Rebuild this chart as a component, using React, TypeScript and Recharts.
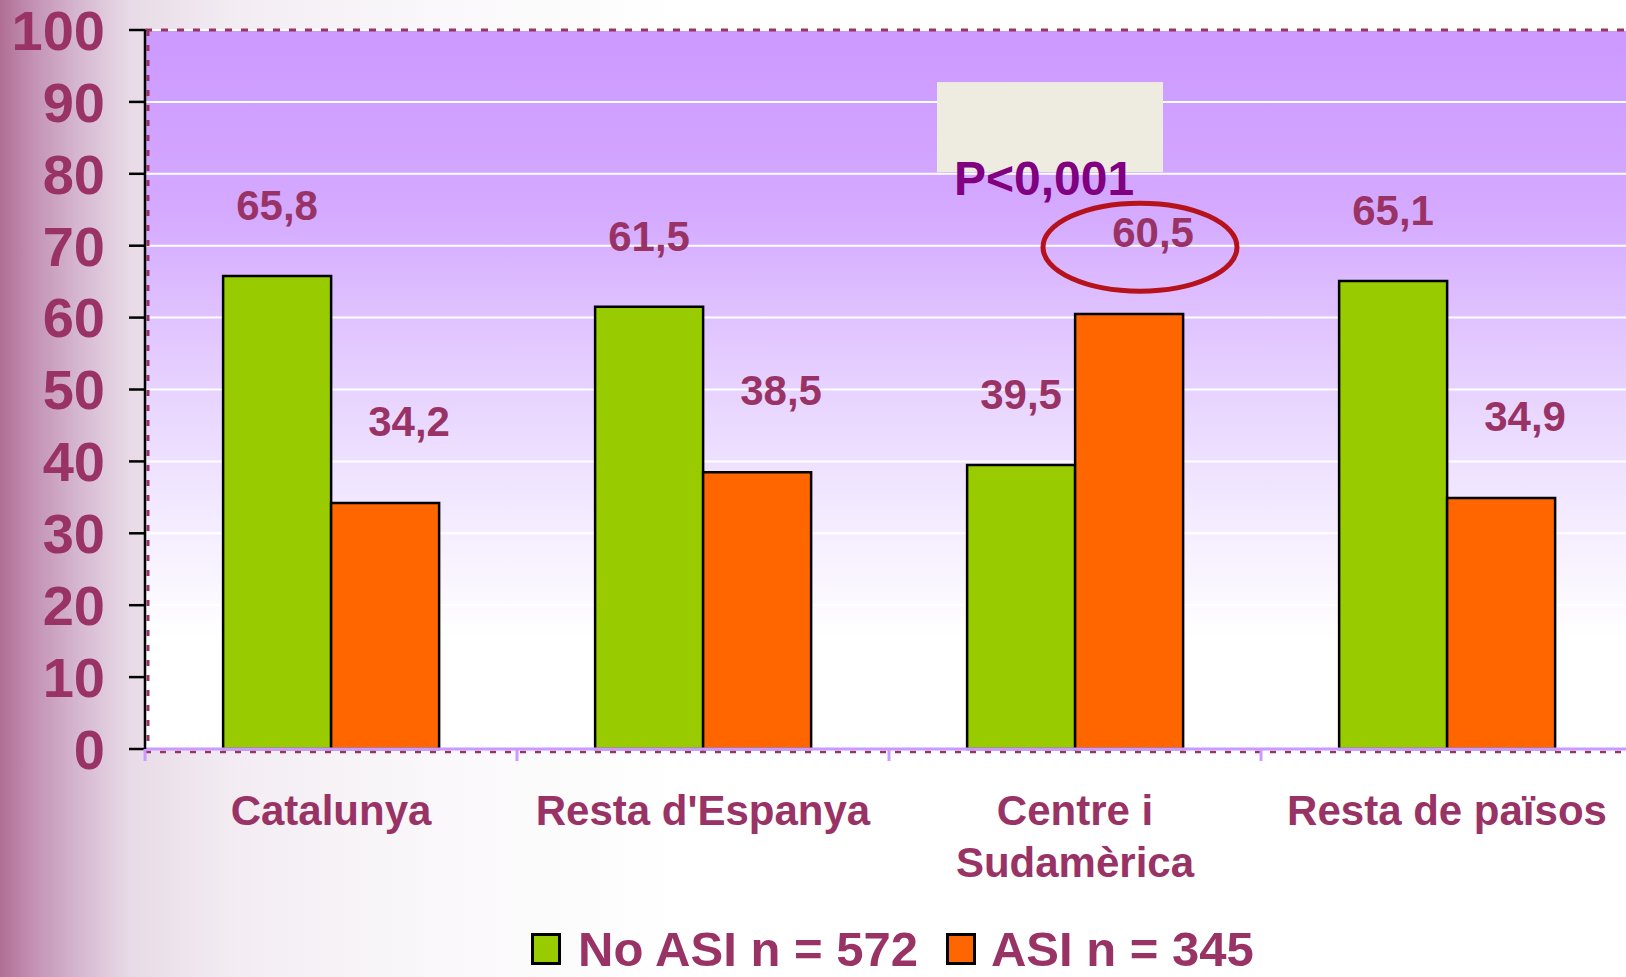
import React from "react";
import {
  BarChart, Bar, XAxis, YAxis, CartesianGrid, Legend, LabelList,
  ReferenceLine, ReferenceDot,
} from "recharts";

const categories = ["Catalunya", "Resta d'Espanya", "Centre i\nSudamèrica", "Resta de països"];
const noAsi = [65.8, 61.5, 39.5, 65.1];
const asi = [34.2, 38.5, 60.5, 34.9];
const yTicks = [0, 10, 20, 30, 40, 50, 60, 70, 80, 90, 100];
const seriesNames = ["No ASI n = 572", "ASI n = 345"];

const data = categories.map((name, i) => ({ name, noAsi: noAsi[i], asi: asi[i] }));

const MAROON = "#993366";
const GREEN = "#99CC00";
const ORANGE = "#FF6600";
const FONT = "'Liberation Sans', Arial, sans-serif";

const fmt = (v: number) => String(v).replace(".", ",");

function makeLabel(dx: number, dy: number) {
  return (props: any) => {
    const { x, y, width, value } = props;
    return (
      <text
        x={Number(x) + Number(width) / 2 + dx}
        y={Number(y) + dy}
        textAnchor="middle"
        dominantBaseline="central"
        fill={MAROON}
        fontFamily={FONT}
        fontWeight="bold"
        fontSize={42}
      >
        {fmt(value)}
      </text>
    );
  };
}

function CatTick(props: any) {
  const { x, y, payload } = props;
  const half = payload && typeof payload.offset === "number" && payload.offset > 0 ? payload.offset : 186;
  const lines = String(payload.value).split("\n");
  return (
    <g>
      <line x1={x - half} x2={x - half} y1={y} y2={y + 12} stroke="#CC99FF" strokeWidth={3} />
      {lines.map((l, i) => (
        <text
          key={i}
          x={x}
          y={y + 61 + i * 52}
          textAnchor="middle"
          dominantBaseline="central"
          fill={MAROON}
          fontFamily={FONT}
          fontWeight="bold"
          fontSize={42}
        >
          {l}
        </text>
      ))}
    </g>
  );
}

function LegendBox() {
  const sq = (c: string) => (
    <span style={{ display: "inline-block", width: 24, height: 26, background: c, border: "3px solid #000" }} />
  );
  const txt = { color: MAROON, fontFamily: FONT, fontWeight: "bold" as const, fontSize: 49, lineHeight: "42px" };
  return (
    <div style={{ display: "flex", alignItems: "center", height: 66, paddingLeft: 531, paddingTop: 18, boxSizing: "border-box" }}>
      {sq(GREEN)}
      <span style={{ ...txt, marginLeft: 17 }}>{seriesNames[0]}</span>
      <span style={{ marginLeft: 28, display: "inline-flex" }}>{sq(ORANGE)}</span>
      <span style={{ ...txt, marginLeft: 15 }}>{seriesNames[1]}</span>
    </div>
  );
}

export default function App() {
  return (
    <div
      style={{
        position: "absolute", left: 0, top: 0, width: 1626, height: 977, overflow: "hidden",
        background:
          "linear-gradient(to right, #b06f95 0px, #c493b5 35px, #d6b8d1 80px, #e8dbe7 130px, #f3edf3 240px, #faf8fa 440px, #ffffff 680px)",
      }}
    >
      <BarChart
        width={1633}
        height={973}
        data={data}
        margin={{ top: 30, right: 0, left: 0, bottom: 0 }}
        barCategoryGap="21%"
        barGap={0}
      >
        <defs>
          <linearGradient id="plotGrad" x1="0" y1="0" x2="0" y2="1">
            <stop offset="0%" stopColor="#CC99FF" />
            <stop offset="25%" stopColor="#D4A9FF" />
            <stop offset="50%" stopColor="#E7D3FF" />
            <stop offset="70%" stopColor="#F5EEFF" />
            <stop offset="85%" stopColor="#FFFFFF" />
            <stop offset="100%" stopColor="#FFFFFF" />
          </linearGradient>
        </defs>
        <CartesianGrid xAxisId="cat" vertical={false} stroke="#FFFFFF" strokeWidth={2} fill="url(#plotGrad)" fillOpacity={1} />
        <CartesianGrid
          xAxisId="cat"
          horizontal={false}
          stroke={MAROON}
          strokeWidth={3}
          strokeDasharray="6 9"
          verticalCoordinatesGenerator={({ offset }: any) => [offset.left + 3]}
        />
        <XAxis
          xAxisId="cat"
          dataKey="name"
          height={158}
          interval={0}
          tickSize={0}
          tickMargin={0}
          tickLine={false}
          axisLine={{ stroke: "#CC99FF", strokeWidth: 3 }}
          tick={<CatTick />}
        />
        <YAxis
          domain={[0, 100]}
          ticks={yTicks}
          interval={0}
          width={145}
          tickSize={16}
          tickMargin={24}
          axisLine={{ stroke: "#000", strokeWidth: 2.5 }}
          tickLine={{ stroke: "#000", strokeWidth: 2.5 }}
          tick={{ fill: MAROON, fontFamily: FONT, fontWeight: "bold", fontSize: 56 }}
        />
        <Legend verticalAlign="bottom" height={66} content={() => <LegendBox />} wrapperStyle={{ left: 0, width: 1633 }} />
        <ReferenceLine y={100} xAxisId="cat" stroke={MAROON} strokeWidth={3} strokeDasharray="7 9" />
        <ReferenceLine y={0} xAxisId="cat" stroke={MAROON} strokeWidth={2.5} strokeDasharray="6 9" transform="translate(0,3)" />
        <ReferenceDot
          xAxisId="cat"
          x={categories[2]}
          y={86.5}
          shape={(p: any) => (
            <rect x={p.cx - 25 - 113} y={p.cy - 45} width={226} height={90} fill="#EEECE1" />
          )}
        />
        <Bar xAxisId="cat" dataKey="noAsi" name={seriesNames[0]} fill={GREEN} stroke="#000" strokeWidth={2.5} isAnimationActive={false}>
          <LabelList dataKey="noAsi" content={makeLabel(0, -70)} />
        </Bar>
        <Bar xAxisId="cat" dataKey="asi" name={seriesNames[1]} fill={ORANGE} stroke="#000" strokeWidth={2.5} isAnimationActive={false}>
          <LabelList dataKey="asi" content={makeLabel(24, -82)} />
        </Bar>
        <ReferenceDot
          xAxisId="cat"
          x={categories[2]}
          y={79.4}
          shape={(p: any) => (
            <text x={p.cx - 31} y={p.cy} textAnchor="middle" dominantBaseline="central" fill="#800080" fontFamily={FONT} fontWeight="bold" fontSize={48}>
              P&lt;0,001
            </text>
          )}
        />
        <ReferenceDot
          xAxisId="cat"
          x={categories[2]}
          y={69.8}
          shape={(p: any) => (
            <ellipse cx={p.cx + 65} cy={p.cy} rx={97} ry={44} fill="none" stroke="#B5121B" strokeWidth={5} />
          )}
        />
      </BarChart>
    </div>
  );
}
